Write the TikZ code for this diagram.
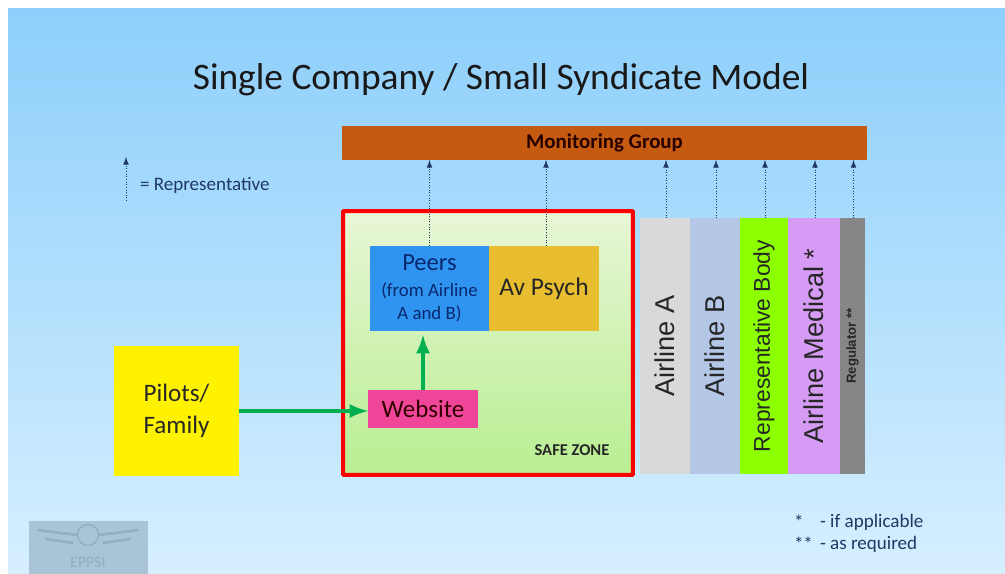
\documentclass[tikz,border=0pt]{standalone}
\usepackage{fontspec}
\setmainfont{Carlito}
\newfontfamily\arialfont{Liberation Sans}
\definecolor{slidetop}{HTML}{8DCFFB}
\definecolor{slidebot}{HTML}{D6EFFF}
\definecolor{repnavy}{HTML}{1F3864}
\definecolor{logofill}{HTML}{A8C4D6}
\definecolor{logoline}{HTML}{8FAFC3}
\definecolor{rustbar}{HTML}{C55A11}
\definecolor{safetop}{HTML}{E8F6D6}
\definecolor{safebot}{HTML}{B8EE92}
\definecolor{peerblue}{HTML}{2E94F0}
\definecolor{peertext}{HTML}{0A286E}
\definecolor{psychgold}{HTML}{E8BE30}
\definecolor{webpink}{HTML}{F0469A}
\definecolor{flowgreen}{HTML}{00B050}
\definecolor{airgrey}{HTML}{D9D9D9}
\definecolor{airblue}{HTML}{B4C7E7}
\definecolor{replime}{HTML}{8CFF00}
\definecolor{medviolet}{HTML}{D69BF5}
\definecolor{reggrey}{HTML}{868686}
\tikzset{
  box/.style      = {shape=rectangle, inner sep=0pt, outer sep=0pt, align=center},
  bar/.style      = {box, rotate=90, minimum width=5.12cm, font=\arialfont\fontsize{15.5}{17}\selectfont, text=black!85},
  keytext/.style  = {box, anchor=west, font=\fontsize{10.85}{13}\selectfont, text=repnavy},
  repline/.style  = {draw=repnavy, densely dotted, line width=.5pt, -latex},
  flow/.style     = {draw=flowgreen, line width=.09cm, -latex},
  logowing/.style = {draw=logoline, line width=1.4pt}
}
\begin{document}
\begin{tikzpicture}
  [
    x=.02cm, y=-.02cm
  ]
  \useasboundingbox (0,0) rectangle (1005,574);
  \node [box, minimum width=19.94cm, minimum height=11.32cm,
         top color=slidetop, bottom color=slidebot] (slide) at (506.5,291) {};

  \node [box, font=\fontsize{21.3}{24}\selectfont, text=black!90] (title) at (501,80)
        {Single Company / Small Syndicate Model};

  % logo
  \node [box, fill=logofill, minimum width=2.38cm, minimum height=1.06cm] (logo) at (88.5,547.5) {};
  \node [box, font=\fontsize{9}{10}\selectfont, text=logoline] (logotext) at (88,562) {EPPSI};
  \node [box, circle, draw=logoline, line width=.8pt, minimum size=.42cm] (logoring) at (88,535) {};
  \draw [logowing] (logoring.west) -- ++(-40,-5) (logoring.west) ++(-4,8) -- ++(-28,-4);
  \draw [logowing] (logoring.east) -- ++(40,-5) (logoring.east) ++(4,8) -- ++(28,-4);

  \node [box, fill=rustbar, minimum width=10.5cm, minimum height=.68cm,
         font=\bfseries\fontsize{11.9}{14}\selectfont, text=black!85!red] (mongroup) at (604.5,143) {Monitoring Group};

  % safe zone
  \node [box, draw=red, line width=.08cm, rounded corners=.5pt, minimum width=5.8cm, minimum height=5.28cm,
         top color=safetop, bottom color=safebot] (safezone) at (488,343) {};
  \node [box, font=\bfseries\fontsize{9.4}{11}\selectfont, text=black!85] (safelabel) at (572,450) {SAFE ZONE};

  \node [box, fill=peerblue, minimum width=2.38cm, minimum height=1.7cm, text=peertext,
         font=\fontsize{10.7}{13}\selectfont] (peers) at (429.5,288.5)
        {{\fontsize{14}{17}\selectfont Peers}\\[1.5pt](from Airline\\A and B)};
  \node [box, fill=psychgold, minimum width=2.2cm, minimum height=1.7cm,
         font=\fontsize{14.5}{17}\selectfont, text=black!85] (avpsych) at (544,288.5) {Av Psych};
  \node [box, fill=webpink, minimum width=2.2cm, minimum height=.76cm,
         font=\fontsize{14.2}{17}\selectfont, text=black!80!red] (website) at (423,409) {Website};
  \node [box, fill=yellow, minimum width=2.5cm, minimum height=2.6cm,
         font=\fontsize{14.3}{18}\selectfont, text=black!85] (pilots) at (176.5,411) {Pilots/\\Family};

  % airlines
  \node [bar, fill=airgrey, minimum height=1cm] (airA) at (665,346) {Airline A};
  \node [bar, fill=airblue, minimum height=1cm] (airB) at (715,346) {Airline B};
  \node [bar, fill=replime, minimum height=.96cm, font=\arialfont\fontsize{13}{15}\selectfont] (repbody) at (764,346) {Representative Body};
  \node [bar, fill=medviolet, minimum height=1.04cm, font=\arialfont\fontsize{15.5}{17}\selectfont] (airmed) at (814,346) {Airline Medical *};
  \node [bar, fill=reggrey, minimum height=.5cm, font=\arialfont\bfseries\fontsize{7.5}{9}\selectfont] (regulator) at (852.5,346) {Regulator **};

  \draw [repline] (peers.north) -- (peers.north |- mongroup.south);
  \draw [repline] ([xshift=.04cm]avpsych.north) -- ([xshift=.04cm]avpsych.north |- mongroup.south);
  \foreach \name in {airA, airB, repbody, airmed, regulator}
    \draw [repline] ([xshift=.02cm]\name.east) -- ([xshift=.02cm]\name.east |- mongroup.south);

  \draw [flow] (pilots.east) -- (pilots.east -| website.west);
  \draw [flow, shorten >=.08cm] (website.north) -- (website.north |- peers.south);

  % key
  \coordinate (keybot) at (126,201);
  \coordinate (keytop) at (126,157);
  \draw [repline] (keybot) -- (keytop);
  \node [keytext] (keyrep) at (140,185) {= Representative};
  \node [keytext] (star) at (794,522) {*};
  \node [keytext] (iffy) at (820,522) {- if applicable};
  \node [keytext] (stars) at (794,544) {**};
  \node [keytext] (asreq) at (820,544) {- as required};
\end{tikzpicture}
\end{document}
